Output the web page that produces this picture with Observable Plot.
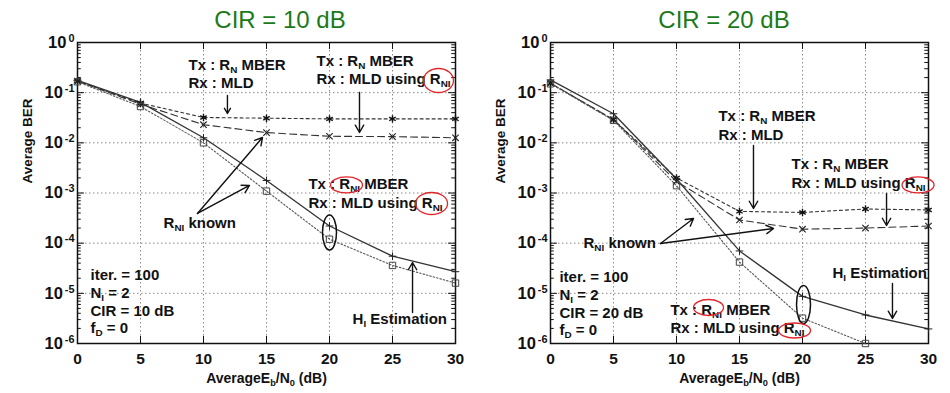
<!DOCTYPE html>
<html>
<head>
<meta charset="utf-8">
<script src="https://cdn.jsdelivr.net/npm/d3@7"></script>
<script src="https://cdn.jsdelivr.net/npm/@observablehq/plot@0.6"></script>
<style>
  body { margin: 0; background: #fff; }
  #wrap { position: relative; width: 950px; height: 393px; overflow: hidden; font-family: 'Liberation Sans', Arial, Helvetica, sans-serif; }
  .title { position: absolute; top: 8px; width: 240px; text-align: center; font-size: 24px; line-height: 24px; color: #1a7a1a; }
  .panel { position: absolute; top: 30px; }
</style>
</head>
<body>
<div id="wrap">
  <div class="title" style="left:160px">CIR = 10 dB</div>
  <div class="title" style="left:604px">CIR = 20 dB</div>
  <div class="panel" id="p1" style="left:0px"></div>
  <div class="panel" id="p2" style="left:475px"></div>
</div>
<script>
// ---------- data ----------
const ebn0 = [0, 5, 10, 15, 20, 25, 30];
const yTickValues = [1e-6, 1e-5, 1e-4, 1e-3, 1e-2, 1e-1, 1];
const xTickValues = [0, 5, 10, 15, 20, 25, 30];
const panelTitles = ["CIR = 10 dB", "CIR = 20 dB"];

// CIR = 10 dB
const cir10_mld      = [0.17, 0.062, 0.032, 0.031, 0.030, 0.030, 0.030];
const cir10_mldRni   = [0.17, 0.059, 0.023, 0.016, 0.0135, 0.0133, 0.0126];
const cir10_hiEst    = [0.175, 0.064, 0.0126, 0.00178, 0.00022, 0.000055, 0.000027];
const cir10_rniKnown = [0.165, 0.053, 0.0100, 0.00109, 0.00012, 0.000036, 0.000016];

// CIR = 20 dB
const cir20_mld      = [0.155, 0.029, 0.0020, 0.00043, 0.00041, 0.00048, 0.00046];
const cir20_mldRni   = [0.155, 0.029, 0.0017, 0.00029, 0.00019, 0.00020, 0.00022];
const cir20_hiEst    = [0.18, 0.038, 0.0019, 0.00007, 0.0000087, 0.0000037, 0.00000195];
const cir20_rniKnown = [0.15, 0.028, 0.0014, 0.000042, 0.0000032, 0.0000010, null];

// ---------- annotations (data coordinates: x in dB, ly = log10 BER) ----------
const ann10 = {
  texts: [
    {x: 8.81, ly: -0.458, t: "Tx : R_{N} MBER"},
    {x: 8.81, ly: -0.817, t: "Rx : MLD"},
    {x: 18.97, ly: -0.379, t: "Tx : R_{N} MBER"},
    {x: 18.97, ly: -0.737, t: "Rx : MLD using R_{NI}"},
    {x: 18.33, ly: -2.830, t: "Tx : R_{NI} MBER"},
    {x: 18.33, ly: -3.209, t: "Rx : MLD using R_{NI}"},
    {x: 6.83, ly: -3.608, t: "R_{NI} known"},
    {x: 21.83, ly: -5.521, t: "H_{I} Estimation"},
    {x: 1.03, ly: -4.644, t: "iter. = 100"},
    {x: 1.03, ly: -5.003, t: "N_{I} = 2"},
    {x: 1.03, ly: -5.362, t: "CIR = 10 dB"},
    {x: 1.03, ly: -5.701, t: "f_{D} = 0"}
  ],
  arrows: [
    {x1: 11.9, ly1: -1.056, x2: 11.9, ly2: -1.415},
    {x1: 22.38, ly1: -0.997, x2: 22.38, ly2: -1.794},
    {x1: 9.52, ly1: -3.408, x2: 14.68, ly2: -1.894},
    {x1: 9.52, ly1: -3.408, x2: 13.65, ly2: -2.850},
    {x1: 26.59, ly1: -5.382, x2: 26.59, ly2: -4.385}
  ],
  blackEllipses: [{x: 20, ly: -3.787, rx: 7, ry: 17.5}],
  redEllipses: [
    {x: 28.65, ly: -0.757, rx: 15, ry: 12},
    {x: 21.35, ly: -2.840, rx: 16, ry: 8},
    {x: 28.10, ly: -3.209, rx: 16, ry: 11}
  ]
};
const ann20 = {
  texts: [
    {x: 13.33, ly: -1.475, t: "Tx : R_{N} MBER"},
    {x: 13.33, ly: -1.854, t: "Rx : MLD"},
    {x: 19.13, ly: -2.432, t: "Tx : R_{N} MBER"},
    {x: 19.13, ly: -2.810, t: "Rx : MLD using R_{NI}"},
    {x: 2.62, ly: -4.006, t: "R_{NI} known"},
    {x: 22.38, ly: -4.604, t: "H_{I} Estimation"},
    {x: 9.52, ly: -5.342, t: "Tx : R_{NI} MBER"},
    {x: 9.52, ly: -5.701, t: "Rx : MLD using R_{NI}"},
    {x: 0.71, ly: -4.684, t: "iter. = 100"},
    {x: 0.71, ly: -5.043, t: "N_{I} = 2"},
    {x: 0.71, ly: -5.402, t: "CIR = 20 dB"},
    {x: 0.71, ly: -5.741, t: "f_{D} = 0"}
  ],
  arrows: [
    {x1: 16.11, ly1: -2.053, x2: 16.11, ly2: -3.309},
    {x1: 26.67, ly1: -3.010, x2: 26.67, ly2: -3.648},
    {x1: 8.73, ly1: -4.006, x2: 11.35, ly2: -3.508},
    {x1: 8.73, ly1: -4.006, x2: 17.70, ly2: -3.707},
    {x1: 27.14, ly1: -4.804, x2: 27.14, ly2: -5.501}
  ],
  blackEllipses: [{x: 20.08, ly: -5.222, rx: 7, ry: 19}],
  redEllipses: [
    {x: 29.17, ly: -2.840, rx: 16, ry: 8},
    {x: 12.54, ly: -5.282, rx: 15, ry: 8},
    {x: 19.37, ly: -5.741, rx: 16, ry: 7.5}
  ]
};

// ---------- helpers ----------
function ellipseSymbol(rx, ry) {
  const k = 0.5523;
  return {
    draw(ctx) {
      ctx.moveTo(rx, 0);
      ctx.bezierCurveTo(rx, ry * k, rx * k, ry, 0, ry);
      ctx.bezierCurveTo(-rx * k, ry, -rx, ry * k, -rx, 0);
      ctx.bezierCurveTo(-rx, -ry * k, -rx * k, -ry, 0, -ry);
      ctx.bezierCurveTo(rx * k, -ry, rx, -ry * k, rx, 0);
      ctx.closePath();
    }
  };
}

function rich(svg) {
  d3.select(svg).selectAll("text").each(function () {
    const t = this.textContent;
    if (!/[_^]\{/.test(t)) return;
    const sel = d3.select(this);
    sel.text(null);
    const re = /([_^])\{([^}]*)\}/g;
    let last = 0, m;
    while ((m = re.exec(t))) {
      if (m.index > last) sel.append("tspan").text(t.slice(last, m.index));
      const sub = m[1] === "_";
      sel.append("tspan")
        .attr("baseline-shift", sub ? "-2.5px" : "6px")
        .attr("font-size", sub ? "66%" : "66%")
        .attr("dx", sub ? 0 : 2)
        .text(m[2]);
      last = re.lastIndex;
    }
    if (last < t.length) sel.append("tspan").text(t.slice(last));
  });
}

const isMajor = v => Math.abs(Math.log10(v) - Math.round(Math.log10(v))) < 1e-6;
const minorY = d3.scaleLog().domain([1e-6, 1]).ticks().filter(v => !isMajor(v));

function rows(ys) {
  return ebn0.map((x, i) => ({x, y: ys[i]})).filter(d => d.y != null);
}

function panel(series, ann, ml, mr) {
  const P = v => Math.pow(10, v);
  const ink = "#111";
  const marks = [
    Plot.gridX({ticks: [5, 10, 15, 20, 25], stroke: "#8a8a8a", strokeOpacity: 1, strokeDasharray: "1.5,2.5"}),
    Plot.gridY({ticks: [1e-5, 1e-4, 1e-3, 1e-2, 1e-1], stroke: "#8a8a8a", strokeOpacity: 1, strokeDasharray: "1.5,2.5"}),
    // inward ticks
    Plot.ruleY(minorY, {y: d => d, x1: 0, x2: 0.3, stroke: ink}),
    Plot.ruleY(minorY, {y: d => d, x1: 29.7, x2: 30, stroke: ink}),
    Plot.ruleY(yTickValues, {y: d => d, x1: 0, x2: 0.55, stroke: ink}),
    Plot.ruleY(yTickValues, {y: d => d, x1: 29.45, x2: 30, stroke: ink}),
    Plot.ruleX(xTickValues, {x: d => d, y1: 1e-6, y2: P(-5.86), stroke: ink}),
    Plot.ruleX(xTickValues, {x: d => d, y1: 1, y2: P(-0.14), stroke: ink}),
    Plot.frame({stroke: ink, strokeWidth: 1.5}),
    Plot.axisY({ticks: yTickValues, tickFormat: d => "10^{" + Math.round(Math.log10(d)) + "}", tickSize: 0, tickPadding: 3, fontSize: 16.5, fontWeight: "bold", label: null}),
    Plot.axisX({ticks: xTickValues, tickFormat: d => String(d), tickSize: 0, tickPadding: 9, fontSize: 15.5, fontWeight: "bold", label: null}),
    // series lines
    Plot.line(rows(series.mld), {x: "x", y: "y", stroke: "#333", strokeWidth: 1.1, strokeDasharray: "3,3"}),
    Plot.line(rows(series.mldRni), {x: "x", y: "y", stroke: "#333", strokeWidth: 1.1, strokeDasharray: "7,4"}),
    Plot.line(rows(series.hiEst), {x: "x", y: "y", stroke: "#333", strokeWidth: 1.3}),
    Plot.line(rows(series.rniKnown), {x: "x", y: "y", stroke: "#555", strokeWidth: 1.1, strokeDasharray: "1.5,2"}),
    // markers
    Plot.dot(rows(series.mld), {x: "x", y: "y", symbol: "asterisk", r: 3.5, stroke: "#111", strokeWidth: 1.4}),
    Plot.dot(rows(series.mldRni), {x: "x", y: "y", symbol: "times", r: 3, stroke: "#222", strokeWidth: 1.1}),
    Plot.dot(rows(series.hiEst), {x: "x", y: "y", symbol: "plus", r: 2.6, stroke: "#222", strokeWidth: 1}),
    Plot.dot(rows(series.rniKnown), {x: "x", y: "y", symbol: "square", r: 3.6, stroke: "#444", fill: "none", strokeWidth: 1}),
    // annotations
    Plot.arrow(ann.arrows, {x1: "x1", y1: d => P(d.ly1), x2: "x2", y2: d => P(d.ly2), stroke: ink, strokeWidth: 1.4, headLength: 9}),
    Plot.text(ann.texts, {x: "x", y: d => P(d.ly), text: "t", textAnchor: "start", fontSize: 15, fontWeight: "bold", fill: ink}),
    ...ann.blackEllipses.map(e => Plot.dot([e], {x: "x", y: d => P(d.ly), symbol: ellipseSymbol(e.rx, e.ry), stroke: ink, strokeWidth: 1.5, fill: "none"})),
    ...ann.redEllipses.map(e => Plot.dot([e], {x: "x", y: d => P(d.ly), symbol: ellipseSymbol(e.rx, e.ry), stroke: "#e3262b", strokeWidth: 1.3, fill: "none"})),
    // axis labels
    Plot.text([{lab: "Average BER", y: P(-2.81)}], {y: "y", frameAnchor: "left", text: "lab", rotate: -90, dx: -50, fontSize: 13.5, fontWeight: "bold", fill: ink}),
    Plot.text(["AverageE_{b}/N_{0} (dB)"], {frameAnchor: "bottom", text: d => d, dy: 39, fontSize: 14, fontWeight: "bold", fill: ink})
  ];
  const svg = Plot.plot({
    width: 475,
    height: 363,
    marginTop: 12,
    marginBottom: 50,
    marginLeft: ml,
    marginRight: mr,
    style: {fontFamily: "'Liberation Sans', Arial, Helvetica, sans-serif", fontSize: "15px", background: "transparent", color: "#111"},
    x: {domain: [0, 30]},
    y: {type: "log", domain: [1e-6, 1]},
    marks
  });
  rich(svg);
  return svg;
}

document.getElementById("p1").appendChild(panel(
  {mld: cir10_mld, mldRni: cir10_mldRni, hiEst: cir10_hiEst, rniKnown: cir10_rniKnown}, ann10, 77, 20));
document.getElementById("p2").appendChild(panel(
  {mld: cir20_mld, mldRni: cir20_mldRni, hiEst: cir20_hiEst, rniKnown: cir20_rniKnown}, ann20, 75, 22));
</script>
</body>
</html>
